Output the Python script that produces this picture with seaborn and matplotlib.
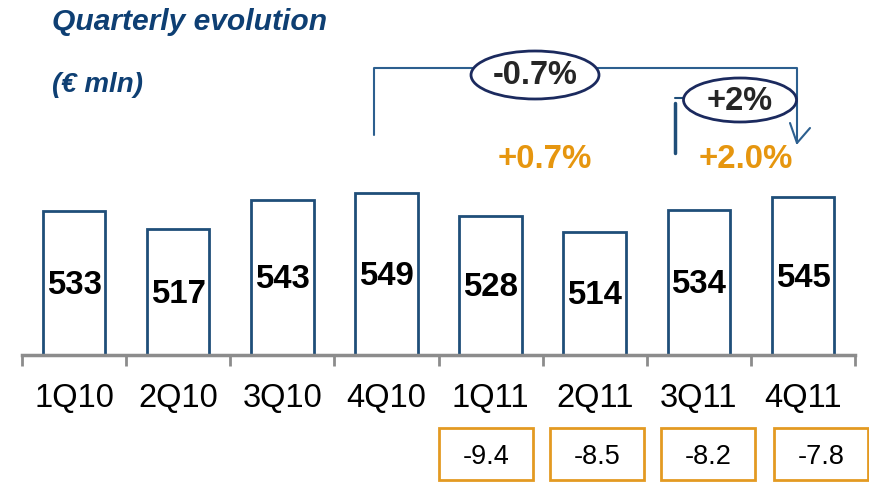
import matplotlib
matplotlib.use("Agg")
import matplotlib.pyplot as plt
import seaborn as sns
from matplotlib.patches import Ellipse, Rectangle

# data
quarters = ["1Q10", "2Q10", "3Q10", "4Q10", "1Q11", "2Q11", "3Q11", "4Q11"]
revenues = [533, 517, 543, 549, 528, 514, 534, 545]
gap_values = [-9.4, -8.5, -8.2, -7.8]
yoy_growth = ["+0.7%", "+2.0%"]
bracket_labels = ["-0.7%", "+2%"]

sns.set_theme(style="white")
plt.rcParams["font.family"] = ["Liberation Sans", "DejaVu Sans"]

navy = "#1F4E79"
orange = "#E6960F"
W, H = 869, 482

fig = plt.figure(figsize=(W / 100, H / 100), dpi=100)
fig.patch.set_facecolor("white")

# bar area: x 22..855 px, baseline at y=355 px
ax = fig.add_axes([22 / W, 1 - 355 / H, (855 - 22) / W, 355 / H])
sns.barplot(x=quarters, y=revenues, color="white", saturation=1, edgecolor=navy,
            linewidth=2, width=0.6, ax=ax)
ymin = 403.6
ax.set_ylim(ymin, ymin + 355 / 1.114)
ax.set_xlim(-0.5, len(quarters) - 0.5)
ax.set_facecolor("none")

for i, v in enumerate(revenues):
    ax.text(i, (v + ymin) / 2 - 2, str(v), ha="center", va="center",
            fontsize=23.8, fontweight="bold", color="black")

for s in ["top", "right", "left"]:
    ax.spines[s].set_visible(False)
ax.spines["bottom"].set_color("#8C8C8C")
ax.spines["bottom"].set_linewidth(2.5)
ax.set_yticks([])
ax.set_xticks(range(len(quarters)))
ax.set_xticklabels(quarters, fontsize=23.5, color="black")
ax.set_xticks([i - 0.5 for i in range(len(quarters) + 1)], minor=True)
ax.tick_params(axis="x", which="major", length=0, pad=20)
ax.tick_params(axis="x", which="minor", length=8, width=2, color="#8C8C8C",
               direction="out", bottom=True)
ax.set_xlabel("")
ax.set_ylabel("")

# overlay in pixel coordinates for the slide annotations
ov = fig.add_axes([0, 0, 1, 1], facecolor="none")
ov.set_xlim(0, W)
ov.set_ylim(H, 0)
ov.axis("off")

ov.text(52, 22, "Quarterly evolution", fontsize=21.6, fontweight="bold", fontstyle="italic",
        color="#0E3F73", va="center", ha="left")
ov.text(52, 85, "(€ mln)", fontsize=20, fontweight="bold", fontstyle="italic",
        color="#0E3F73", va="center", ha="left")

# big bracket 4Q10 -> 4Q11
line_c = "#2C5F8F"
ov.plot([374, 374, 797, 797], [135, 68, 68, 143], color=line_c, lw=1.5)
ov.plot([790, 797, 810], [123, 143, 128], color=line_c, lw=1.5)
ov.add_patch(Ellipse((535, 75), 128, 48, facecolor="white", edgecolor="#1B2A5E", lw=2, zorder=3))
ov.text(535, 76, bracket_labels[0], fontsize=23.5, fontweight="bold", ha="center", va="center", zorder=4)

# small bracket 3Q11 -> 4Q11
ov.plot([675, 675], [103, 153], color=navy, lw=2.5)
ov.plot([675, 684], [98, 98], color=navy, lw=1.5)
ov.add_patch(Ellipse((740, 100), 113, 44, facecolor="white", edgecolor="#1B2A5E", lw=2, zorder=3))
ov.text(740, 101, bracket_labels[1], fontsize=23.5, fontweight="bold", ha="center", va="center", zorder=4)

# orange growth labels
ov.text(545, 160, yoy_growth[0], fontsize=23.8, fontweight="bold", color=orange, ha="center", va="center")
ov.text(746, 160, yoy_growth[1], fontsize=23.8, fontweight="bold", color=orange, ha="center", va="center")

# orange boxes under 2011 quarters
box_x = [439, 550, 661, 774]
for x0, g in zip(box_x, gap_values):
    ov.add_patch(Rectangle((x0, 428), 94, 52, facecolor="white", edgecolor="#E39A22", lw=2))
    ov.text(x0 + 47, 457, f"{g:.1f}", fontsize=19.5, color="black", ha="center", va="center")

fig.savefig("out.png", dpi=100)
